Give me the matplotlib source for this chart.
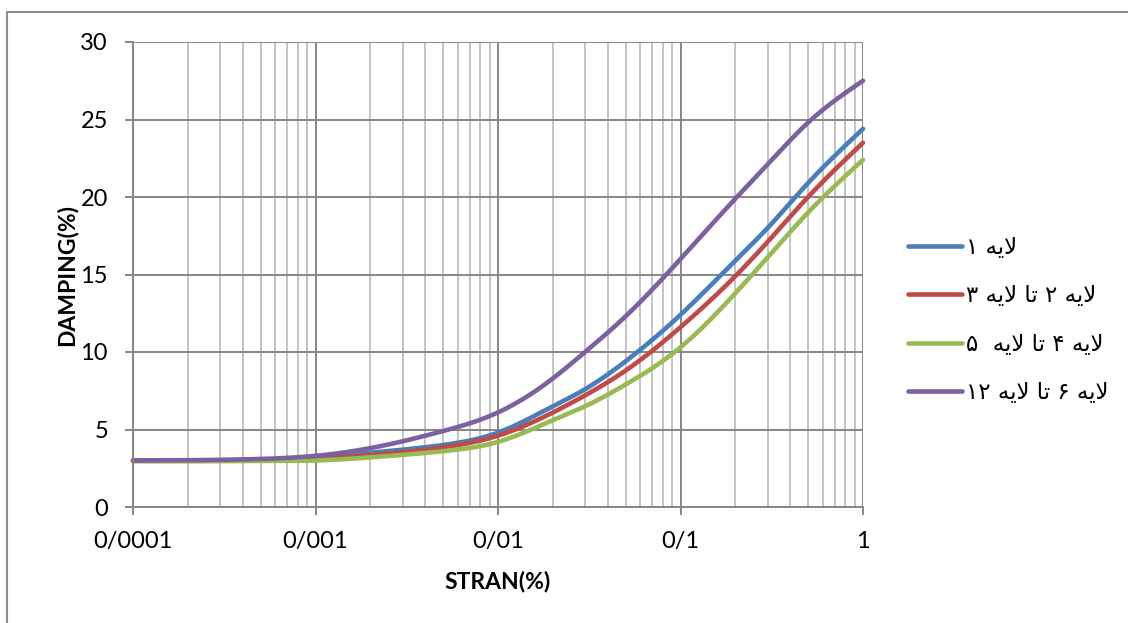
import numpy as np
import matplotlib
matplotlib.use("Agg")
import matplotlib.pyplot as plt
from matplotlib.lines import Line2D
from matplotlib.ticker import FixedLocator, FixedFormatter, NullFormatter

# Strain (%) sample points and damping (%) per layer group
strain = [0.0001, 0.0002, 0.0005, 0.001, 0.002, 0.005, 0.01, 0.02, 0.03,
          0.05, 0.1, 0.2, 0.3, 0.5, 1.0]
layer_1 = [3.0, 3.0, 3.05, 3.2, 3.5, 4.0, 4.8, 6.5, 7.6, 9.4, 12.4, 15.9,
           18.0, 20.9, 24.4]
layer_2_3 = [3.0, 3.0, 3.02, 3.1, 3.35, 3.85, 4.6, 6.1, 7.2, 8.8, 11.6,
             14.9, 17.1, 20.0, 23.5]
layer_4_5 = [2.95, 2.95, 2.97, 3.0, 3.2, 3.6, 4.2, 5.6, 6.5, 7.9, 10.3,
             13.8, 16.1, 19.0, 22.4]
layer_6_12 = [3.0, 3.02, 3.1, 3.3, 3.8, 4.9, 6.1, 8.3, 10.0, 12.3, 16.0,
              19.9, 22.1, 24.8, 27.5]

x_ticks = [0.0001, 0.001, 0.01, 0.1, 1]
x_tick_labels = ["0/0001", "0/001", "0/01", "0/1", "1"]
y_ticks = [0, 5, 10, 15, 20, 25, 30]

# Legend labels, pre-shaped (presentation forms) in visual order
labels = [
    "\u06f1 \ufeea\ufef3\ufefb",
    "\u06f3 \ufeea\ufef3\ufefb \ufe8e\ufe97 \u06f2 \ufeea\ufef3\ufefb",
    "\u06f5  \ufeea\ufef3\ufefb \ufe8e\ufe97 \u06f4 \ufeea\ufef3\ufefb",
    "\u06f1\u06f2 \ufeea\ufef3\ufefb \ufe8e\ufe97 \u06f6 \ufeea\ufef3\ufefb",
]
colors = ["#4A7EBB", "#BE4B48", "#98B954", "#7D60A0"]
series = [layer_1, layer_2_3, layer_4_5, layer_6_12]


def smooth(xs, ys, n=30):
    """Natural cubic spline through the points, in log-x space."""
    x = np.log10(np.asarray(xs, float))
    y = np.asarray(ys, float)
    k = len(x)
    h = np.diff(x)
    A = np.zeros((k, k))
    b = np.zeros(k)
    A[0, 0] = A[-1, -1] = 1.0
    for i in range(1, k - 1):
        A[i, i - 1] = h[i - 1]
        A[i, i] = 2 * (h[i - 1] + h[i])
        A[i, i + 1] = h[i]
        b[i] = 6 * ((y[i + 1] - y[i]) / h[i] - (y[i] - y[i - 1]) / h[i - 1])
    M = np.linalg.solve(A, b)
    px, py = [], []
    for i in range(k - 1):
        t = np.linspace(x[i], x[i + 1], n, endpoint=False)
        a = x[i + 1] - t
        c = t - x[i]
        s = (M[i] * a ** 3 + M[i + 1] * c ** 3) / (6 * h[i]) \
            + (y[i] / h[i] - M[i] * h[i] / 6) * a \
            + (y[i + 1] / h[i] - M[i + 1] * h[i] / 6) * c
        px.append(t)
        py.append(s)
    px.append([x[-1]])
    py.append([y[-1]])
    return 10 ** np.concatenate(px), np.concatenate(py)


plt.rcParams["font.family"] = ["Lato", "DejaVu Sans"]

fig = plt.figure(figsize=(11.28, 6.23), dpi=100)
# chart-area border (top and left edges inside the canvas)
for xs, ys in (([7 / 1128, 1.0], [1 - 12 / 623] * 2),
               ([7 / 1128] * 2, [0.0, 1 - 12 / 623])):
    fig.lines.append(Line2D(xs, ys, transform=fig.transFigure,
                            color="#8C8C8C", linewidth=1.5))

ax = fig.add_axes([133 / 1128, 1 - 507 / 623, 730 / 1128, 465 / 623])
ax.set_xscale("log")
ax.set_xlim(0.0001, 1)
ax.set_ylim(0, 30)

minor = [m * 10.0 ** e for e in range(-4, 0) for m in range(2, 10)]
ax.xaxis.set_major_locator(FixedLocator(x_ticks))
ax.xaxis.set_major_formatter(FixedFormatter(x_tick_labels))
ax.xaxis.set_minor_locator(FixedLocator(minor))
ax.xaxis.set_minor_formatter(NullFormatter())
ax.set_yticks(y_ticks)

ax.grid(True, which="minor", axis="x", color="#BFBFBF", linewidth=1.3)
ax.grid(True, which="major", axis="x", color="#868686", linewidth=1.4)
ax.grid(True, which="major", axis="y", color="#868686", linewidth=1.4)
ax.set_axisbelow(True)

for side in ("top", "right"):
    ax.spines[side].set_visible(False)
for side in ("left", "bottom"):
    ax.spines[side].set_color("#868686")
    ax.spines[side].set_linewidth(1.4)

ax.tick_params(axis="both", which="major", direction="out", length=6,
               width=1.4, color="#868686", labelsize=17, labelcolor="black")
ax.tick_params(axis="y", which="major", pad=12)
ax.tick_params(axis="x", which="major", pad=11)
ax.tick_params(axis="x", which="minor", length=0)

handles = []
for ys, c, lab in zip(series, colors, labels):
    sx, sy = smooth(strain, ys)
    h, = ax.plot(sx, sy, color=c, linewidth=3.3, solid_capstyle="round",
                 label=lab, clip_on=False)
    handles.append(h)

ax.set_xlabel("STRAN(%)", fontsize=16.5, fontweight="bold", labelpad=14)
ax.set_ylabel("DAMPING(%)", fontsize=16.5, fontweight="bold", labelpad=2)

leg = fig.legend(handles=handles, labels=labels,
                 loc="center left", bbox_to_anchor=(908 / 1128, 1 - 320 / 623),
                 frameon=False, prop={"family": "DejaVu Sans", "size": 16.5},
                 handlelength=2.35, handletextpad=0.2, labelspacing=1.1,
                 borderpad=0.0, borderaxespad=0.0)
for line in leg.get_lines():
    line.set_linewidth(3.3)
    line.set_solid_capstyle("round")

fig.savefig("out.png", dpi=100)
